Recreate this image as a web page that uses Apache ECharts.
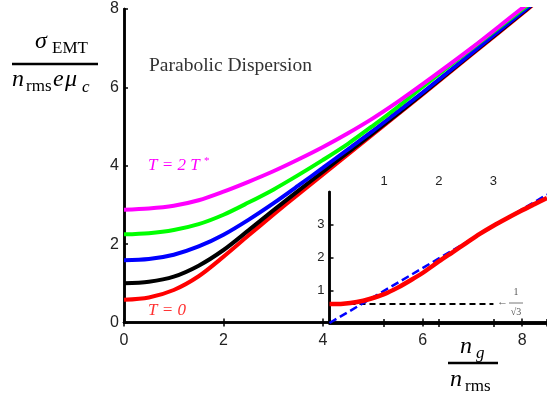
<!DOCTYPE html>
<html>
<head>
<meta charset="utf-8">
<script src="https://cdn.jsdelivr.net/npm/echarts@6/dist/echarts.min.js"></script>
<style>
html,body{margin:0;padding:0;background:#fff;}
#main{width:547px;height:401px;}
</style>
</head>
<body>
<div id="main"></div>
<script>
// main plot: sigma vs n_g for five temperatures
var mainX = [0, 0.5, 1, 1.5, 2, 2.5, 3, 3.5, 4, 4.5, 5, 5.5, 6, 7, 8, 8.2];
var redMain = [0.58, 0.64, 0.83, 1.18, 1.68, 2.22, 2.75, 3.27, 3.78, 4.29, 4.8, 5.31, 5.82, 6.85, 7.88, 8.09];
var blackMain = [1.0, 1.04, 1.17, 1.45, 1.85, 2.35, 2.86, 3.36, 3.85, 4.34, 4.83, 5.33, 5.84, 6.87, 7.9, 8.11];
var blueMain = [1.59, 1.62, 1.73, 1.94, 2.24, 2.62, 3.04, 3.49, 3.95, 4.42, 4.89, 5.38, 5.87, 6.89, 7.92, 8.12];
var greenMain = [2.25, 2.28, 2.36, 2.51, 2.75, 3.06, 3.39, 3.76, 4.15, 4.56, 5.02, 5.5, 6.01, 7.0, 7.98, 8.17];
var magentaMain = [2.88, 2.91, 2.98, 3.12, 3.34, 3.59, 3.86, 4.16, 4.48, 4.83, 5.21, 5.63, 6.08, 7.02, 8.02, 8.2];

// inset: T = 0 curve, the straight dashed line and the 1/sqrt(3) floor
var insetX = [0, 0.25, 0.5, 0.75, 1, 1.25, 1.5, 1.75, 2, 2.25, 2.5, 2.75, 3, 3.25, 3.5, 3.75, 3.98];
var insetRed = [0.58, 0.59, 0.64, 0.74, 0.88, 1.08, 1.32, 1.58, 1.88, 2.16, 2.44, 2.72, 2.97, 3.2, 3.42, 3.63, 3.82];
var diagX = [0, 3.98];
var diagY = [0, 3.92];
var floorX = [0, 3.0];
var floorY = [0.58, 0.58];

function pairs(xs, ys) {
    var out = [];
    for (var i = 0; i < xs.length; i++) {
        out.push([xs[i], ys[i]]);
    }
    return out;
}

var serif = '"Liberation Serif", "Times New Roman", serif';
var sans = '"Liberation Sans", Arial, sans-serif';

// text piece placed by its baseline
function txt(str, x, base, size, italic, color, align) {
    return {
        type: 'text',
        x: x,
        y: base - 0.34 * size,
        style: {
            text: str,
            fontSize: size,
            fontFamily: serif,
            fontStyle: italic ? 'italic' : 'normal',
            fill: color || '#000',
            textAlign: align || 'left',
            textVerticalAlign: 'middle'
        }
    };
}
function bar(x1, x2, y, w, color) {
    return {
        type: 'line',
        shape: {x1: x1, y1: y, x2: x2, y2: y},
        style: {stroke: color || '#000', lineWidth: w}
    };
}

function edgeAxis(grid, pos, lo, hi, step, labels, size, margin, ticks) {
    return {
        type: 'value',
        gridIndex: grid,
        position: pos,
        min: lo,
        max: hi,
        interval: step,
        axisLine: {show: true, lineStyle: {color: '#000', width: 2.5}},
        axisTick: {show: ticks, inside: true, length: 4, lineStyle: {color: '#000', width: 1.5}},
        axisLabel: {
            show: labels,
            fontSize: size,
            fontFamily: sans,
            color: '#222',
            margin: margin,
            showMinLabel: grid === 0,
            showMaxLabel: grid === 0 && pos !== 'bottom' ? true : false
        },
        splitLine: {show: false}
    };
}

function curve(name, xs, ys, color, grid, width, dash) {
    return {
        name: name,
        type: 'line',
        xAxisIndex: grid * 2,
        yAxisIndex: grid * 2,
        data: pairs(xs, ys),
        showSymbol: false,
        smooth: dash ? false : 0.3,
        clip: true,
        lineStyle: {color: color, width: width, type: dash || 'solid'}
    };
}

var myChart = echarts.init(document.getElementById('main'));
var option = {
    animation: false,
    backgroundColor: '#fff',
    grid: [
        {left: 124, top: 9, width: 425, height: 313.5},
        {left: 329.5, top: 192, width: 220, height: 131}
    ],
    xAxis: [
        edgeAxis(0, 'bottom', 0, 8.5, 2, true, 16, 10, true),
        edgeAxis(0, 'top', 0, 8.5, 2, false, 16, 8, true),
        edgeAxis(1, 'bottom', 0, 3.98, 1, false, 13, 3, true),
        edgeAxis(1, 'top', 0, 3.98, 1, true, 13, 4, true)
    ],
    yAxis: [
        edgeAxis(0, 'left', 0, 8, 2, true, 16, 5, true),
        edgeAxis(0, 'right', 0, 8, 2, false, 16, 3, false),
        edgeAxis(1, 'left', 0, 4, 1, true, 13, 5, true),
        edgeAxis(1, 'right', 0, 4, 1, false, 13, 3, false)
    ],
    series: [
        curve('T=0', mainX, redMain, '#ff0000', 0, 4),
        curve('black', mainX, blackMain, '#000000', 0, 4),
        curve('blue', mainX, blueMain, '#0000ff', 0, 4),
        curve('green', mainX, greenMain, '#00ff00', 0, 4),
        curve('T=2T*', mainX, magentaMain, '#ff00ff', 0, 4),
        curve('floor', floorX, floorY, '#000000', 1, 2, [6, 4]),
        curve('diag', diagX, diagY, '#0000ff', 1, 2.5, [8, 4]),
        curve('inset T=0', insetX, insetRed, '#ff0000', 1, 4.5)
    ],
    graphic: [
        // y axis label
        txt('\u03c3', 35, 50, 24, true),
        txt('EMT', 52, 54, 17, false),
        bar(12, 98, 64, 2.5),
        txt('n', 12, 88, 24, true),
        txt('rms', 26, 92, 17, false),
        txt('e', 53, 88, 24, true),
        txt('\u03bc', 65, 88, 24, true),
        txt('c', 82, 93, 17, true),
        // x axis label
        txt('n', 460, 355, 24, true),
        txt('g', 476, 359, 17, true),
        bar(448, 498, 363, 2.5),
        txt('n', 450, 388, 24, true),
        txt('rms', 465, 392, 17, false),
        // annotations
        txt('Parabolic Dispersion', 149, 73, 19.5, false, '#333'),
        txt('T = 2 T', 148, 171, 17, true, '#ff00ff'),
        txt('*', 204, 165, 11, false, '#ff00ff'),
        txt('T = 0', 148, 316, 17, true, '#ff3333'),
        // 1/sqrt(3) marker in the inset
        txt('\u2190', 497, 306, 11, false, '#555'),
        txt('1', 516, 296, 10, false, '#555', 'center'),
        bar(509, 523, 303, 0.8, '#555'),
        txt('\u221a3', 516, 316, 10, false, '#555', 'center')
    ]
};
myChart.setOption(option);
</script>
</body>
</html>
